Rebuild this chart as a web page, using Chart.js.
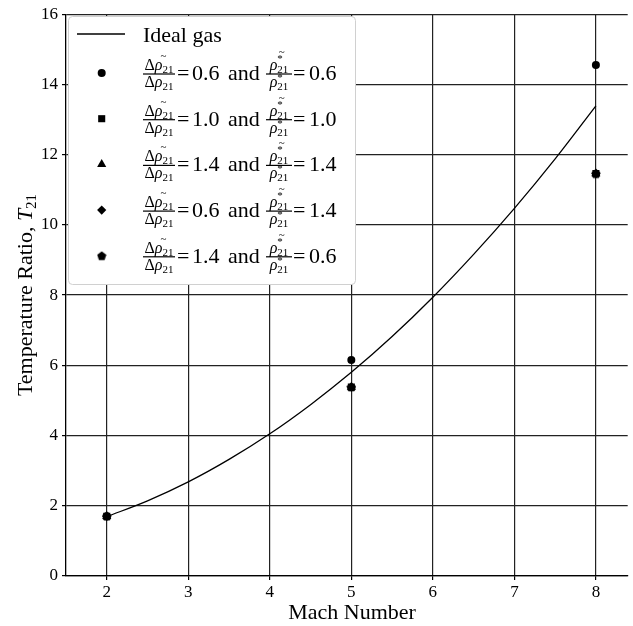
<!DOCTYPE html>
<html>
<head>
<meta charset="utf-8">
<script src="https://cdn.jsdelivr.net/npm/chart.js@4.4.0/dist/chart.umd.min.js"></script>
<style>
  html, body { margin: 0; padding: 0; background: #fff; overflow: hidden; }
  #wrap { width: 633px; height: 626px; }
</style>
</head>
<body>
<div id="wrap"><canvas id="tempChart"></canvas></div>
<script>
// Ideal-gas curve, sampled along the Mach axis
const machGrid = [2, 2.5, 3, 3.5, 4, 4.5, 5, 5.5, 6, 6.5, 7, 7.5, 8];
const idealGas = [1.69, 2.14, 2.68, 3.32, 4.05, 4.88, 5.80, 6.82, 7.94, 9.16, 10.47, 11.88, 13.39];

// Simulated cases
const machCases = [2, 5, 8];
const caseA = [1.70, 6.15, 14.55];   // 0.6 / 0.6
const caseB = [1.70, 5.38, 11.46];   // 1.0 / 1.0
const caseC = [1.70, 5.38, 11.46];   // 1.4 / 1.4
const caseD = [1.70, 5.38, 11.46];   // 0.6 / 1.4
const caseE = [1.70, 5.38, 11.46];   // 1.4 / 0.6
const deltaRatios = ['0.6', '1.0', '1.4', '0.6', '1.4'];
const starRatios  = ['0.6', '1.0', '1.4', '1.4', '0.6'];

const xTicks = [2, 3, 4, 5, 6, 7, 8];
const yTicks = [0, 2, 4, 6, 8, 10, 12, 14, 16];

const SERIF = '"Liberation Serif", "DejaVu Serif", serif';
const font = (size, italic) => (italic ? 'italic ' : '') + size + 'px ' + SERIF;

// pentagon marker, Chart.js has none built in
const pentagon = document.createElement('canvas');
pentagon.width = 10; pentagon.height = 10;
{
    const c = pentagon.getContext('2d');
    c.fillStyle = '#000';
    c.beginPath();
    for (let i = 0; i < 5; i++) {
        const a = -Math.PI / 2 + i * 2 * Math.PI / 5;
        const px = 5 + 4.8 * Math.cos(a), py = 5.4 + 4.8 * Math.sin(a);
        i ? c.lineTo(px, py) : c.moveTo(px, py);
    }
    c.closePath();
    c.fill();
}

const markerStyles = ['circle', 'rect', 'triangle', 'rectRot', pentagon];
const markerSizes  = [4, 5, 5.3, 4.6, 4];
const caseSeries   = [caseA, caseB, caseC, caseD, caseE];

// draw a run of text pieces: [text, size, italic, dy, noAdvance]
function drawRun(ctx, x, y, parts, measureOnly) {
    let cx = x, maxAdv = 0;
    parts.forEach(([t, size, italic, dy, stay]) => {
        ctx.font = font(size, italic);
        const w = ctx.measureText(t).width;
        if (!measureOnly) ctx.fillText(t, cx, y + (dy || 0));
        if (stay) { maxAdv = Math.max(maxAdv, w); }
        else { cx += Math.max(w, maxAdv); maxAdv = 0; }
    });
    return cx - x;
}

// fraction of width w starting at x, bar at barY
function drawFraction(ctx, x, w, barY, num, den, accent) {
    const wn = drawRun(ctx, 0, 0, num, true);
    const wd = drawRun(ctx, 0, 0, den, true);
    const nx = x + (w - wn) / 2;
    drawRun(ctx, nx, barY - 4, num);
    drawRun(ctx, x + (w - wd) / 2, barY + 13, den);
    if (accent) accent(nx, barY - 4);
    ctx.fillRect(x, barY - 0.6, w, 1.2);
}

// column positions inside the legend rows
const col = { fracA: 143, eq1: 177, val1: 192, and: 228, fracB: 266, eq2: 293, val2: 309 };

const legendPlugin = {
    id: 'caseLegend',
    afterDraw(chart) {
        const ctx = chart.ctx;
        ctx.save();
        // frame
        ctx.beginPath();
        ctx.roundRect(68.5, 16.5, 287, 268, 4);
        ctx.fillStyle = '#fff';
        ctx.fill();
        ctx.strokeStyle = '#d0d0d0';
        ctx.lineWidth = 1;
        ctx.stroke();

        ctx.fillStyle = '#000';
        ctx.strokeStyle = '#000';
        ctx.textBaseline = 'alphabetic';
        ctx.textAlign = 'left';

        // ideal gas entry
        ctx.lineWidth = 1.3;
        ctx.beginPath();
        ctx.moveTo(77, 34);
        ctx.lineTo(125, 34);
        ctx.stroke();
        ctx.font = font(22, false);
        ctx.fillText('Ideal gas', 143, 42);

        const rowGap = 45.7;
        for (let i = 0; i < 5; i++) {
            const barY = 74 + rowGap * i;
            Chart.helpers.drawPoint(ctx, {
                pointStyle: markerStyles[i], radius: markerSizes[i], rotation: 0, borderWidth: 0
            }, 101.7, barY - 1);
            ctx.fillStyle = '#000';

            // Δρ̃21 / Δρ21
            drawFraction(ctx, col.fracA, 32, barY,
                [['Δ', 16, false], ['ρ', 16, true], ['21', 11, false, 3]],
                [['Δ', 16, false], ['ρ', 16, true], ['21', 11, false, 3]],
                (nx, base) => {
                    ctx.font = font(11, false);
                    ctx.fillText('~', nx + 16, base - 11);
                });
            ctx.font = font(22, false);
            ctx.fillText('=', col.eq1, barY + 6);
            ctx.fillText(deltaRatios[i], col.val1, barY + 6);
            ctx.fillText('and', col.and, barY + 6);

            // ρ̃*21 / ρ*21
            drawFraction(ctx, col.fracB, 26, barY,
                [['ρ', 16, true], ['*', 11, false, -8, true], ['21', 11, false, 3]],
                [['ρ', 16, true], ['*', 11, false, -6, true], ['21', 11, false, 3]],
                (nx, base) => {
                    ctx.font = font(11, false);
                    ctx.fillText('~', nx + 9, base - 15);
                });
            ctx.font = font(22, false);
            ctx.fillText('=', col.eq2, barY + 6);
            ctx.fillText(starRatios[i], col.val2, barY + 6);
        }
        ctx.restore();
    }
};

const axisTitlePlugin = {
    id: 'axisTitles',
    afterDraw(chart) {
        const ctx = chart.ctx;
        ctx.save();
        ctx.fillStyle = '#000';
        ctx.textBaseline = 'alphabetic';
        ctx.textAlign = 'left';

        ctx.font = font(22, false);
        const xt = 'Mach Number';
        ctx.fillText(xt, 352 - ctx.measureText(xt).width / 2, 619);

        const parts = [['Temperature Ratio, ', 22, false], ['T', 22, true], ['21', 15, false, 4]];
        const w = drawRun(ctx, 0, 0, parts, true);
        ctx.translate(25, 295);
        ctx.rotate(-Math.PI / 2);
        drawRun(ctx, -w / 2, 7, parts);
        ctx.restore();
    }
};

const markerSets = caseSeries.map((vals, i) => ({
    label: 'case ' + (i + 1),
    data: machCases.map((m, j) => ({ x: m, y: vals[j] })),
    pointStyle: markerStyles[i],
    pointRadius: markerSizes[i],
    pointBackgroundColor: '#000',
    pointBorderWidth: 0,
    showLine: false,
    order: 1
}));

new Chart(document.getElementById('tempChart'), {
    type: 'scatter',
    data: {
        datasets: [{
            label: 'Ideal gas',
            data: machGrid.map((m, i) => ({ x: m, y: idealGas[i] })),
            showLine: true,
            borderColor: '#000',
            borderWidth: 1.3,
            pointRadius: 0,
            cubicInterpolationMode: 'monotone',
            order: 2
        }, ...markerSets]
    },
    options: {
        responsive: true,
        maintainAspectRatio: false,
        animation: false,
        devicePixelRatio: 1,
        layout: { padding: { top: 14, left: 0, right: 0, bottom: 0 } },
        plugins: {
            legend: { display: false },
            tooltip: { enabled: false }
        },
        scales: {
            x: {
                type: 'linear',
                min: 1.5,
                max: 8.39,
                afterBuildTicks: (scale) => { scale.ticks = xTicks.map(v => ({ value: v })); },
                afterFit: (scale) => { scale.height = 50; },
                grid: { color: '#222', lineWidth: 1.2, tickLength: 4, tickColor: '#000' },
                border: { color: '#000', width: 1.3 },
                ticks: { color: '#000', font: { family: SERIF, size: 17 }, padding: 2, maxRotation: 0 }
            },
            y: {
                min: 0,
                max: 16,
                afterBuildTicks: (scale) => { scale.ticks = yTicks.map(v => ({ value: v })); },
                afterFit: (scale) => { scale.width = 66; },
                grid: { color: '#222', lineWidth: 1.2, tickLength: 4, tickColor: '#000' },
                border: { color: '#000', width: 1.3 },
                ticks: { color: '#000', font: { family: SERIF, size: 17 }, padding: 4 }
            }
        }
    },
    plugins: [legendPlugin, axisTitlePlugin]
});
</script>
</body>
</html>
